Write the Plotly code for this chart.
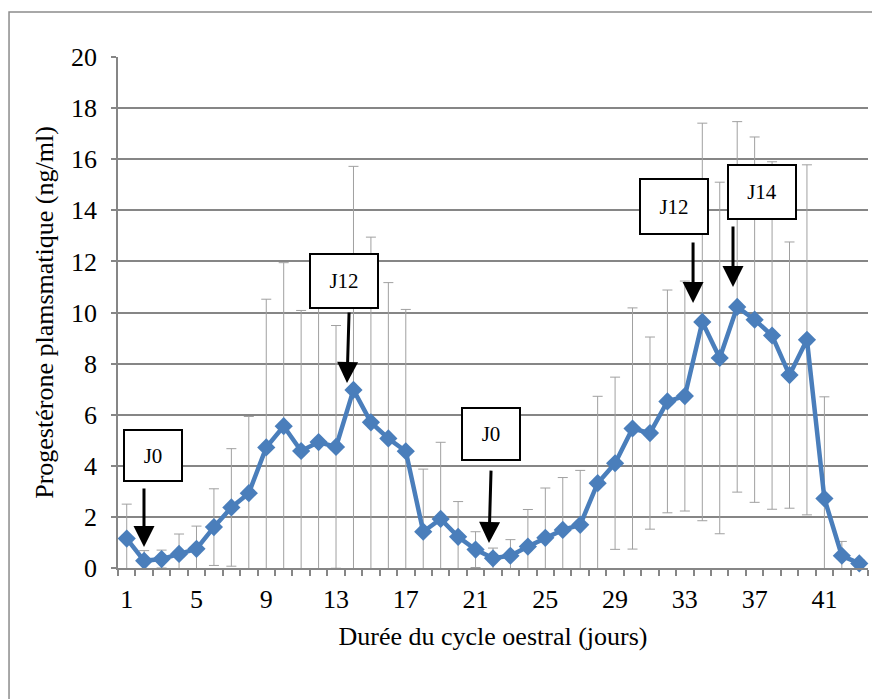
import plotly.graph_objects as go

# ---- data ----
days = list(range(1, 44))
progesterone = [1.15, 0.28, 0.35, 0.55, 0.75, 1.6, 2.37, 2.93, 4.72, 5.55,
                4.58, 4.93, 4.74, 6.97, 5.7, 5.07, 4.57, 1.42, 1.92, 1.22,
                0.72, 0.38, 0.48, 0.84, 1.18, 1.49, 1.69, 3.32, 4.1, 5.46,
                5.28, 6.52, 6.73, 9.63, 8.22, 10.22, 9.72, 9.1, 7.55, 8.93,
                2.72, 0.48, 0.18]
std_dev = [1.35, 0.4, 0.35, 0.78, 0.89, 1.5, 2.3, 3.0, 5.8, 6.4,
           5.5, 6.05, 4.75, 8.75, 7.25, 6.1, 5.55, 2.45, 3.0, 1.38,
           0.7, 0.4, 0.63, 1.45, 1.95, 2.05, 2.13, 3.4, 3.37, 4.72,
           3.76, 4.36, 4.5, 7.78, 6.88, 7.25, 7.15, 6.8, 5.21, 6.85,
           3.98, 0.56, 0.15]
x_tick_labels = [1, 5, 9, 13, 17, 21, 25, 29, 33, 37, 41]
y_ticks = list(range(0, 21, 2))

# annotations (label boxes and arrows)
box_labels = ["J0", "J12", "J0", "J12", "J14"]
box_x = [2.51, 13.46, 21.89, 32.38, 37.43]
box_y = [4.42, 11.23, 5.24, 14.15, 14.72]
box_w = [56, 66, 56, 66, 66]
box_h = [49, 52, 50, 53, 52]
arrow_tip_x = [1.99, 13.63, 21.77, 33.47, 35.76]
arrow_tail_x = [1.99, 13.75, 21.89, 33.47, 35.76]
arrow_tip_y = [0.82, 7.24, 0.98, 10.37, 11.0]
arrow_tail_y = [3.17, 10.06, 3.87, 12.8, 13.42]

FONT = "Liberation Serif"
GRID = "#868686"
BLUE = "#4A7EBB"

fig = go.Figure()
fig.add_trace(go.Scatter(
    x=days, y=progesterone,
    mode="lines+markers",
    line=dict(color=BLUE, width=4.5),
    marker=dict(symbol="diamond", size=14, color=BLUE),
    error_y=dict(type="data", array=std_dev, visible=True,
                 color="#A0A0A0", thickness=1, width=5),
    cliponaxis=False,
    showlegend=False,
))

annotations = []
for lab, bx, by, bw, bh in zip(box_labels, box_x, box_y, box_w, box_h):
    annotations.append(dict(
        x=bx, y=by, xref="x", yref="y", text=lab, showarrow=False,
        font=dict(family=FONT, size=21, color="black"),
        bgcolor="white", bordercolor="black", borderwidth=2, borderpad=0,
        width=bw, height=bh, align="center", valign="middle",
    ))
for tx, ty, ax, ay in zip(arrow_tip_x, arrow_tip_y, arrow_tail_x, arrow_tail_y):
    annotations.append(dict(
        x=tx, y=ty, ax=ax, ay=ay, xref="x", yref="y", axref="x", ayref="y",
        text="", showarrow=True, arrowhead=2, arrowsize=1.4, arrowwidth=3,
        arrowcolor="black", standoff=0,
    ))

fig.update_layout(
    width=880, height=699,
    margin=dict(l=110, r=20, t=49, b=139, autoexpand=False),
    paper_bgcolor="white", plot_bgcolor="white",
    font=dict(family=FONT, size=26, color="black"),
    annotations=annotations,
    shapes=[dict(type="rect", xref="paper", yref="paper",
                 x0=-0.1453, x1=1.05, y0=-0.4, y1=1.088,
                 line=dict(color="#8C8C8C", width=1.5), layer="below")],
    xaxis=dict(
        range=[0.5, 43.5], tickmode="array", tickvals=x_tick_labels,
        ticktext=[str(v) for v in x_tick_labels],
        ticks="", showgrid=False, zeroline=False,
        showline=True, linecolor=GRID, linewidth=1.5,
        ticklabelstandoff=7, automargin=False,
        minor=dict(tickmode="array", tickvals=[d + 0.5 for d in [0] + days],
                   ticks="outside", ticklen=6, tickcolor=GRID, tickwidth=1.5,
                   showgrid=False),
        title=dict(text="Durée du cycle oestral (jours)", standoff=14,
                   font=dict(family=FONT, size=26)),
    ),
    yaxis=dict(
        range=[0, 20], tickmode="array", tickvals=y_ticks,
        ticks="outside", ticklen=5, tickcolor=GRID, tickwidth=1.5,
        showgrid=True, gridcolor=GRID, gridwidth=1.5, zeroline=False,
        showline=True, linecolor=GRID, linewidth=1.5,
        ticklabelstandoff=9, automargin=False,
        title=dict(text="Progestérone plamsmatique (ng/ml)", standoff=10,
                   font=dict(family=FONT, size=26)),
    ),
)

fig.write_html("out.html")
